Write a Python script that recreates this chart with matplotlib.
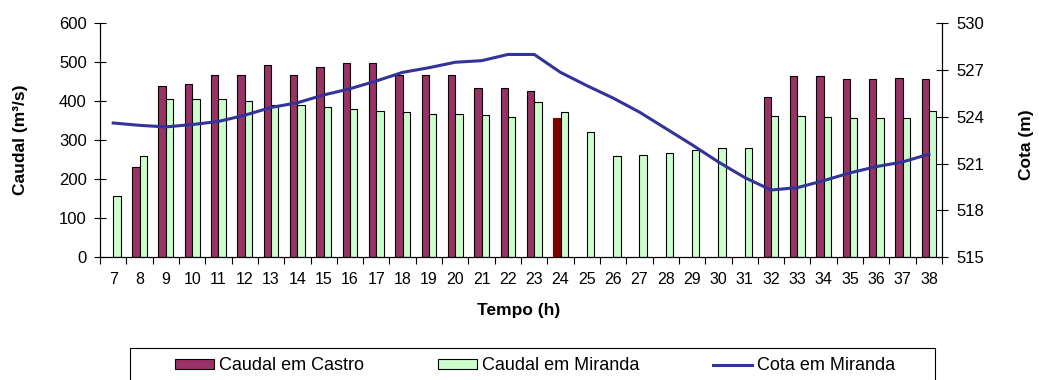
import numpy as np
import matplotlib.pyplot as plt
from matplotlib.patches import Patch, Rectangle
from matplotlib.lines import Line2D

plt.rcParams['font.family'] = ['Liberation Sans', 'DejaVu Sans']

# horas 7..38
horas = list(range(7, 39))
# caudal em Castro (m3/s); 0 = sem descarga
caudal_castro = [0, 230, 440, 445, 467, 467, 493, 467, 489, 497, 497, 467, 467, 467,
                 434, 434, 427, 356, 0, 0, 0, 0, 0, 0, 0, 411, 464, 464, 457, 457, 460, 457]
# caudal em Miranda (m3/s)
caudal_miranda = [156, 260, 405, 405, 405, 401, 389, 389, 386, 379, 375, 371, 368, 368,
                  364, 360, 397, 371, 322, 260, 263, 267, 274, 279, 279, 363, 363, 360,
                  357, 357, 357, 375]
# cota em Miranda (m)
cota_miranda = [523.6, 523.45, 523.35, 523.5, 523.7, 524.1, 524.6, 524.9, 525.4, 525.8,
                526.3, 526.85, 527.15, 527.5, 527.6, 528.0, 528.0, 526.85, 526.0, 525.2,
                524.3, 523.25, 522.2, 521.1, 520.1, 519.3, 519.45, 519.9, 520.4, 520.8,
                521.1, 521.6]

c_castro = '#993366'
c_miranda = '#CCFFCC'
c_cota = '#333399'

x = np.arange(len(horas))
w = 0.28

fig = plt.figure(figsize=(10.39, 3.8), dpi=100)
ax = fig.add_axes([0.0963, 0.3237, 0.8104, 0.615])

bars = ax.bar(x - w / 2, caudal_castro, width=w, color=c_castro, edgecolor='black', linewidth=0.8)
# hora 24 destacada
bars[horas.index(24)].set_facecolor('#800000')
bars[horas.index(24)].set_edgecolor('#800000')
for i, v in enumerate(caudal_castro):
    if v == 0:
        bars[i].set_visible(False)
ax.bar(x + w / 2, caudal_miranda, width=w, color=c_miranda, edgecolor='black', linewidth=0.8)

ax.set_xlim(-0.5, len(horas) - 0.5)
ax.set_ylim(0, 600)
ax.set_yticks(range(0, 601, 100))
ax.set_xticks(x)
ax.set_xticklabels([str(h) for h in horas])
ax.set_xticks(np.arange(-0.5, len(horas)), minor=True)
ax.tick_params(axis='x', which='major', length=0, labelsize=11.5, pad=11)
ax.tick_params(axis='x', which='minor', length=5, direction='out', width=0.8)
ax.tick_params(axis='y', direction='inout', length=9, width=0.8, labelsize=12, pad=5)
ax.spines['top'].set_visible(False)
ax.set_ylabel('Caudal (m³/s)', fontsize=12.5, fontweight='bold')
ax.yaxis.set_label_coords(-0.0855, 0.5)
ax.set_xlabel('Tempo (h)', fontsize=12.5, fontweight='bold')
ax.xaxis.set_label_coords(0.4976, -0.195)

ax2 = ax.twinx()
ax2.plot(x, cota_miranda, color=c_cota, linewidth=2.2)
ax2.set_ylim(515, 530)
ax2.set_yticks(range(515, 531, 3))
ax2.tick_params(axis='y', direction='inout', length=9, width=0.8, labelsize=12, pad=6)
ax2.spines['top'].set_visible(False)
ax2.set_ylabel('Cota (m)', fontsize=12.5, fontweight='bold')
ax2.yaxis.set_label_coords(1.0914, 0.48)

# legenda sem moldura + caixa em coordenadas da figura
handles = [Patch(facecolor=c_castro, edgecolor='black', linewidth=0.8),
           Patch(facecolor=c_miranda, edgecolor='black', linewidth=0.8),
           Line2D([], [], color=c_cota, linewidth=2.2)]
labels = ['Caudal em Castro', 'Caudal em Miranda', 'Cota em Miranda']
fig.legend(handles, labels, loc='center', ncol=3, bbox_to_anchor=(0.515, 0.037),
           fontsize=13, frameon=False, borderpad=0, handlelength=2.15,
           handleheight=0.55, handletextpad=0.28, columnspacing=4.1)
fig.patches.append(Rectangle((0.1251, -0.05), 0.7748, 0.1342, transform=fig.transFigure,
                             fill=False, edgecolor='black', linewidth=0.8))

fig.savefig('out.png', dpi=100)
